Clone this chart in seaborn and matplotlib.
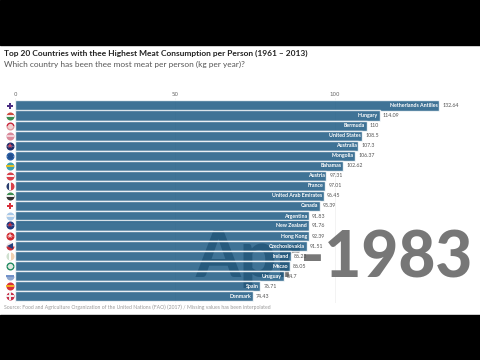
import matplotlib
matplotlib.use('Agg')
import matplotlib.pyplot as plt
import seaborn as sns
import pandas as pd

# Values
countries = ['Netherlands Antilles', 'Hungary', 'Bermuda', 'United States', 'Australia',
             'Mongolia', 'Bahamas', 'Austria', 'France', 'United Arab Emirates', 'Canada',
             'Argentina', 'New Zealand', 'Hong Kong', 'Czechoslovakia', 'Ireland', 'Macao',
             'Uruguay', 'Spain', 'Denmark']
meat = [132.64, 114.09, 110, 108.5, 107.3, 106.37, 102.62, 97.31, 97.01, 96.45, 95.39,
        91.83, 91.76, 91.8, 91.1, 86.3, 86.0, 84.0, 76.71, 74.43]
value_labels = ['132.64', '114.09', '110', '108.5', '107.3', '106.37', '102.62', '97.31',
                '97.01', '96.45', '95.39', '91.83', '91.76', '92.39', '91.51', '86.23',
                '86.05', '84.7', '76.71', '74.43']
# rows move during the animation, Argentina and New Zealand sit closer together here
ranks = [0, 1, 2, 3, 4, 5, 6, 7, 8, 9, 10, 11.05, 11.95, 13, 14, 15, 16, 17, 18, 19]

# flags: two halves plus one small mark in the middle
flag_a = ['#ffffff', '#cd4a3f', '#c8283c', '#d98a9a', '#1f2f6b', '#2a5fa5', '#3fa0b0',
          '#d8404a', '#2a3f6f', '#3c8c50', '#ffffff', '#a8c8e8', '#1f3a80', '#d02a30',
          '#f0e8e8', '#cfe0cf', '#1f8a60', '#ffffff', '#d8303a', '#c8304a']
flag_b = ['#ffffff', '#3c8c50', '#e09aa0', '#d98a9a', '#1f2f6b', '#2a5fa5', '#3fa0b0',
          '#d8404a', '#d8404a', '#333333', '#ffffff', '#a8c8e8', '#1f3a80', '#d02a30',
          '#c8303a', '#f0d0b0', '#1f8a60', '#8fa8d0', '#d8303a', '#c8304a']
flag_fill = ['top', 'top', 'top', 'top', 'top', 'top', 'top', 'top', 'left', 'top', 'top',
             'top', 'top', 'top', 'top', 'left', 'top', 'top', 'top', 'top']
mid_color = ['#4b2e83', '#f0f0f0', '#f0d0d0', '#f0d0d8', '#d04a60', '#23508f', '#e8c020',
             '#f5f5f5', '#f5f5f5', '#f0f0f0', '#d8303a', '#f0f0f0', '#c83040', '#f5d0d0',
             '#23407f', '#ffffff', '#e0e8e0', '#6f8fc8', '#f0b020', '#f0f0f0']
mid_mark = ['P', '_', 'o', '_', '*', 'o', '_', '_', '|', '_', 'P', '_', '*', '*', '<', '|',
            'o', '_', '_', '+']

df = pd.DataFrame({'rank': ranks, 'meat': meat})

sns.set_style('white')
fig = plt.figure(figsize=(4.8, 3.6), dpi=100)
fig.patches.append(plt.Rectangle((0, 0.875), 1, 0.125, transform=fig.transFigure, color='black'))
fig.patches.append(plt.Rectangle((0, 0), 1, 0.125, transform=fig.transFigure, color='black'))

# axes: 0 at x=15px, 3.2 px per unit, rows about 10 px tall
row = 10.04
top = 105.5 - 0.7 * row
bottom = 105.5 + 19.7 * row
ax = fig.add_axes([15 / 480, (360 - bottom) / 360, 465 / 480, (bottom - top) / 360])
ax.set_facecolor('none')

# date sits behind the see-through bars
ax.text(473 / 480, 1 - 258.5 / 360, 'Apr-1983', transform=fig.transFigure, fontsize=46,
        fontweight='black', family='Lato', color='#777777', ha='right', va='center',
        zorder=1, clip_on=False)

sns.barplot(data=df, y='rank', x='meat', color='#15547f', saturation=1, alpha=0.82,
            width=1.12, orient='h', native_scale=True, ax=ax, zorder=2)
ax.set_xlim(0, 465 / 3.2)
ax.set_ylim(19.7, -0.7)
ax.set_xlabel('')
ax.set_ylabel('')
ax.set_yticks([])
ax.xaxis.tick_top()
ax.set_xticks([0, 50, 100])
ax.tick_params(axis='x', length=0, pad=1, labelsize=4, labelcolor='#666666')
ax.grid(axis='x', color='#eeeeee', lw=0.5)
ax.set_axisbelow(True)
sns.despine(ax=ax, left=True, bottom=True, top=True, right=True)

for r, name, val, lab in zip(ranks, countries, meat, value_labels):
    ax.text(val - 0.6, r, name, ha='right', va='center', fontsize=3.8, color='white',
            family='Lato', fontweight='bold', zorder=4)
    ax.text(val + 0.9, r, lab, ha='left', va='center', fontsize=3.8, color='#555555',
            family='Lato', zorder=4)

# little round flags
for r, c1, c2, fill, c3, mk in zip(ranks, flag_a, flag_b, flag_fill, mid_color, mid_mark):
    ax.plot([-1.6], [r], marker='o', ms=5.8, fillstyle=fill, markerfacecolor=c1,
            markerfacecoloralt=c2, mew=0, clip_on=False, zorder=5)
    line_mark = mk in ['_', '|', '+']
    ax.plot([-1.6], [r], marker=mk, ms=5.2 if line_mark else 3.8, mew=1.4 if line_mark else 0,
            color=c3, clip_on=False, zorder=6)

fig.text(4 / 480, 1 - 53 / 360, 'Top 20 Countries with thee Highest Meat Consumption per Person (1961 \u2013 2013)',
         fontsize=6.0, fontweight='bold', color='#222222', family='Lato', va='center')
fig.text(4 / 480, 1 - 64 / 360, 'Which country has been thee most meat per person (kg per year)?',
         fontsize=5.95, color='#555555', family='Lato', va='center')
fig.text(4 / 480, 1 - 307.7 / 360,
         'Source: Food and Agriculture Organization of the United Nations (FAO) (2017) / Missing values has been interpolated',
         fontsize=3.66, color='#999999', family='Lato', va='center')

fig.savefig('out.png', dpi=100)
